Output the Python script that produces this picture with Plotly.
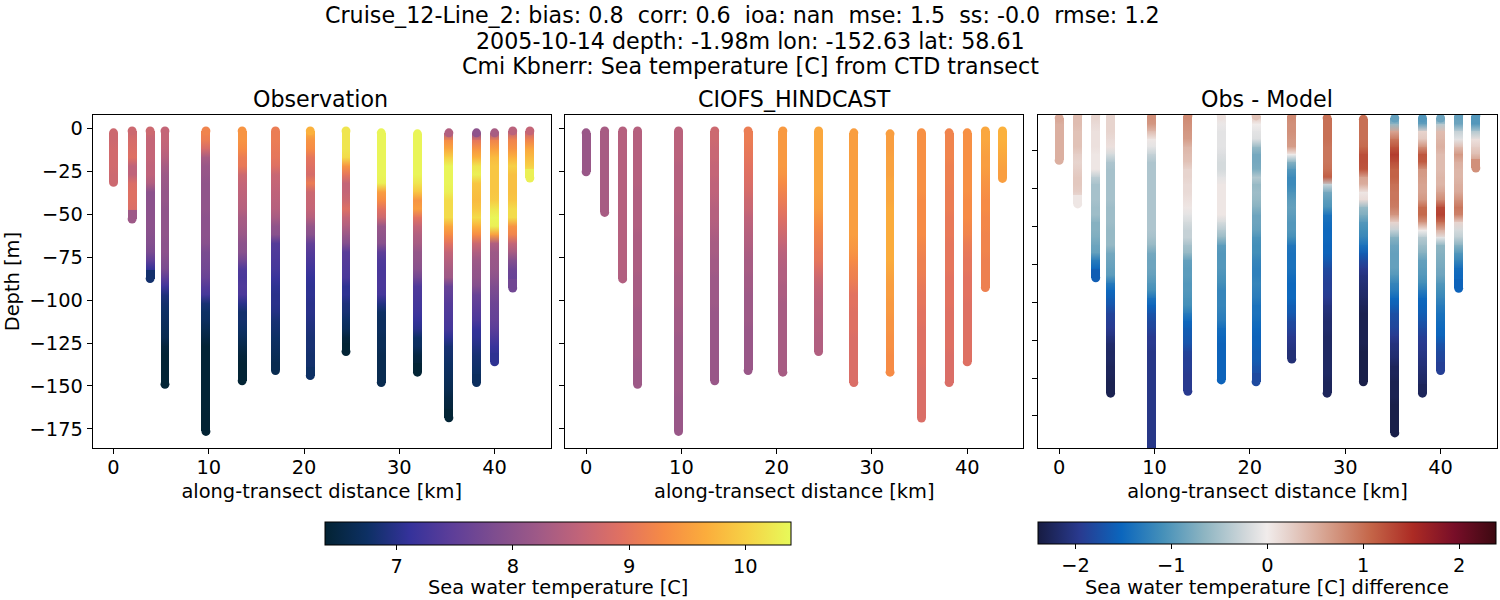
from plotly.colors import sample_colorscale
import plotly.graph_objects as go

# along-transect distance of each CTD cast [km]
DIST = [0, 1.95, 3.84, 5.4, 9.7, 13.5, 17, 20.65, 24.4, 28.1, 31.9, 35.2, 38.1, 40, 41.9, 43.7]

# depth levels [m], casts stop at their own bottom
LEVELS = [2, 7, 12, 17, 22, 27, 32, 37, 42, 47, 52, 57, 62, 67, 72, 77, 82, 87, 92, 97, 102, 107,
          112, 117, 122, 127, 132, 137, 142, 147, 152, 157, 162, 167, 172]
LEVELS_DIFF = [2, 6, 10, 14, 18, 22, 26, 30, 34, 38, 42, 46, 50, 54, 58, 62, 66, 70, 74, 78, 82, 86,
               90, 94, 98, 102, 106, 110, 114, 118, 122, 126, 130, 134, 138, 142, 146, 150, 154,
               158, 162, 166, 170, 174]

TOPS = [2.6, 1.5, 1.5, 1.5, 1.5, 1.5, 1.5, 1.5, 1.5, 2.6, 3.2, 2.6, 2.6, 2.6, 1.5, 1.5]
OBS_BOTTOM = [31.5, 52.8, 87.5, 149, 176.5, 147, 141, 144, 130, 148, 142, 168.5, 148, 136, 93, 29]
MODEL_BOTTOM = [25.3, 49, 87.7, 149, 176.5, 147, 141, 142, 130, 148, 142, 168.7, 148, 136, 92.7, 29.2]
DIFF_BOTTOM = [25, 48, 87, 148, 177, 147, 141, 142, 130, 148, 142, 169, 148, 136, 92.6, 29]

OBS_TEMP = [
    [8.7, 8.7, 8.75, 8.75, 8.75, 8.7, 8.7],
    [8.7, 8.8, 8.85, 8.9, 8.55, 8.55, 8.85, 8.9, 8.9, 8.85, 8.2],
    [8.7, 8.6, 8.6, 8.6, 8.55, 8.55, 8.4, 8.0, 8.0, 8.0, 8.0, 8.0, 7.95, 7.9, 7.8, 7.5, 7.1, 6.8],
    [8.6, 8.6, 8.55, 8.45, 8.3, 8.2, 8.15, 8.1, 8.1, 8.05, 8.05, 8.05, 8.05, 8.0, 8.0, 7.9, 7.8, 7.5,
     7.2, 6.9, 6.8, 6.75, 6.7, 6.65, 6.6, 6.45, 6.4, 6.4, 6.4, 6.4],
    [9.2, 9.1, 8.8, 8.3, 8.15, 8.1, 8.05, 8.05, 8.05, 8.05, 8.0, 8.0, 8.0, 7.95, 7.8, 7.75, 7.7, 7.6,
     7.4, 7.25, 6.85, 6.75, 6.7, 6.6, 6.5, 6.4, 6.4, 6.4, 6.4, 6.4, 6.4, 6.4, 6.4, 6.39, 6.39, 6.39],
    [9.4, 9.4, 9.3, 9.1, 9.05, 8.7, 8.6, 8.55, 8.5, 8.45, 8.3, 8.25, 8.15, 8.0, 7.95, 7.7, 7.35, 7.3,
     7.35, 7.3, 7.0, 6.8, 6.8, 6.75, 6.65, 6.55, 6.45, 6.4, 6.4, 6.4],
    [9.1, 9.1, 9.05, 9.0, 8.9, 8.65, 8.6, 8.55, 8.5, 8.45, 8.3, 8.05, 7.95, 7.4, 7.35, 7.3, 7.25, 7.15,
     7.05, 7.0, 7.0, 6.95, 6.85, 6.8, 6.75, 6.7, 6.65, 6.6, 6.6],
    [9.7, 9.4, 9.3, 9.0, 8.9, 8.8, 9.1, 8.7, 8.65, 8.6, 8.45, 8.1, 7.95, 7.55, 7.4, 7.3, 7.2, 7.1,
     7.05, 7.05, 7.0, 7.0, 6.95, 6.9, 6.85, 6.85, 6.8, 6.8, 6.75],
    [10.2, 10.2, 10.2, 10.1, 9.4, 9.0, 8.6, 8.6, 8.7, 8.9, 8.6, 8.4, 8.15, 7.9, 7.45, 7.4, 7.35, 7.3,
     7.05, 7.05, 6.9, 6.85, 6.75, 6.65, 6.45, 6.4],
    [10.35, 10.35, 10.35, 10.35, 10.35, 10.35, 10.3, 9.5, 9.3, 8.95, 8.7, 8.15, 8.05, 7.95, 7.5, 7.35,
     7.3, 7.3, 7.3, 7.25, 6.95, 6.75, 6.7, 6.7, 6.65, 6.65, 6.6, 6.6, 6.6, 6.6],
    [10.35, 10.35, 10.35, 10.35, 10.35, 10.35, 10.2, 9.9, 9.4, 9.5, 8.95, 8.6, 8.4, 8.3, 8.1, 8.05,
     7.95, 7.7, 7.35, 7.3, 7.25, 7.2, 7.1, 7.0, 6.75, 6.7, 6.5, 6.45, 6.4],
    [8.4, 9.3, 9.6, 10.0, 10.35, 10.35, 10.35, 10.3, 10.1, 10.1, 10.1, 9.6, 9.3, 8.95, 8.6, 8.45, 8.3,
     8.2, 7.6, 7.5, 7.4, 7.35, 7.3, 7.25, 7.05, 6.85, 6.8, 6.75, 6.7, 6.65, 6.6, 6.5, 6.45, 6.4],
    [8.0, 9.0, 9.4, 9.7, 10.2, 10.3, 9.9, 9.85, 9.8, 9.9, 10.1, 9.7, 9.3, 8.7, 8.4, 8.2, 8.1, 8.05,
     7.9, 7.6, 7.5, 7.4, 7.3, 7.1, 7.05, 6.95, 6.85, 6.8, 6.75, 6.7],
    [8.3, 9.2, 9.5, 9.8, 9.9, 9.9, 9.9, 9.9, 9.95, 10.2, 10.35, 10.3, 9.5, 8.4, 8.2, 8.15, 8.1, 8.0,
     7.85, 7.75, 7.65, 7.6, 7.55, 7.45, 7.3, 7.15, 7.05],
    [8.5, 9.2, 9.4, 9.7, 10.0, 9.85, 9.85, 9.85, 9.9, 10.1, 10.1, 9.4, 9.2, 8.6, 8.3, 7.9, 7.65, 7.6, 7.7],
    [8.6, 9.2, 9.6, 9.8, 10.0, 10.3],
]

MODEL_TEMP = [
    [8.15, 8.15, 8.15, 8.15, 8.15, 8.15],
    [8.3, 8.3, 8.3, 8.3, 8.3, 8.3, 8.3, 8.3, 8.3, 8.3, 8.3],
    [8.45, 8.45, 8.45, 8.45, 8.45, 8.45, 8.45, 8.45, 8.45, 8.45, 8.45, 8.45, 8.45, 8.45, 8.45, 8.45, 8.45, 8.4],
    [8.45, 8.45, 8.45, 8.45, 8.45, 8.45, 8.45, 8.4, 8.4, 8.4, 8.4, 8.4, 8.35, 8.35, 8.35, 8.35, 8.35, 8.3,
     8.3, 8.3, 8.3, 8.25, 8.25, 8.25, 8.25, 8.25, 8.25, 8.2, 8.2, 8.2],
    [8.5, 8.5, 8.5, 8.5, 8.45, 8.45, 8.45, 8.45, 8.45, 8.45, 8.4, 8.4, 8.4, 8.35, 8.35, 8.35, 8.35, 8.3,
     8.3, 8.3, 8.3, 8.25, 8.25, 8.25, 8.2, 8.2, 8.2, 8.2, 8.2, 8.2, 8.2, 8.15, 8.15, 8.15, 8.15, 8.15],
    [8.7, 8.7, 8.65, 8.65, 8.6, 8.6, 8.55, 8.55, 8.5, 8.45, 8.45, 8.4, 8.35, 8.3, 8.3, 8.25, 8.25, 8.2,
     8.2, 8.2, 8.2, 8.15, 8.15, 8.15, 8.15, 8.15, 8.15, 8.15, 8.15, 8.15],
    [9.1, 9.1, 9.05, 9.0, 8.95, 8.9, 8.85, 8.8, 8.7, 8.65, 8.55, 8.5, 8.45, 8.4, 8.35, 8.3, 8.3, 8.25,
     8.25, 8.2, 8.2, 8.2, 8.2, 8.15, 8.15, 8.15, 8.15, 8.15, 8.15],
    [9.45, 9.45, 9.45, 9.45, 9.45, 9.4, 9.3, 9.2, 9.1, 9.0, 8.9, 8.8, 8.7, 8.6, 8.5, 8.45, 8.4, 8.4,
     8.35, 8.35, 8.3, 8.3, 8.3, 8.3, 8.3, 8.3, 8.3, 8.3, 8.3],
    [9.6, 9.6, 9.6, 9.6, 9.6, 9.6, 9.6, 9.6, 9.55, 9.5, 9.4, 9.3, 9.2, 9.15, 9.05, 9.0, 8.85, 8.7,
     8.6, 8.55, 8.5, 8.5, 8.45, 8.45, 8.4, 8.4],
    [9.5, 9.5, 9.5, 9.5, 9.5, 9.5, 9.5, 9.5, 9.5, 9.5, 9.5, 9.5, 9.5, 9.45, 9.4, 9.3, 9.2, 9.15,
     9.05, 8.95, 8.95, 8.9, 8.9, 8.9, 8.85, 8.85, 8.85, 8.85, 8.85, 8.85],
    [9.5, 9.5, 9.5, 9.55, 9.55, 9.55, 9.6, 9.6, 9.6, 9.65, 9.65, 9.65, 9.65, 9.65, 9.65, 9.65, 9.6, 9.55,
     9.5, 9.5, 9.45, 9.45, 9.4, 9.4, 9.35, 9.35, 9.3, 9.3, 9.3],
    [9.35, 9.35, 9.35, 9.35, 9.35, 9.35, 9.35, 9.35, 9.3, 9.3, 9.3, 9.3, 9.3, 9.25, 9.2, 9.15, 9.15, 9.1,
     9.05, 9.0, 9.0, 8.95, 8.95, 8.9, 8.9, 8.9, 8.9, 8.9, 8.85, 8.85, 8.85, 8.85, 8.85, 8.85],
    [9.2, 9.2, 9.2, 9.2, 9.15, 9.15, 9.15, 9.1, 9.1, 9.1, 9.05, 9.05, 9.05, 9.0, 9.0, 9.0, 9.0, 8.95,
     8.95, 8.95, 8.95, 8.9, 8.9, 8.9, 8.9, 8.9, 8.85, 8.85, 8.85, 8.85],
    [9.35, 9.35, 9.35, 9.35, 9.35, 9.35, 9.35, 9.35, 9.3, 9.3, 9.3, 9.25, 9.2, 9.1, 9.05, 9.0, 9.0, 8.95,
     8.95, 8.95, 8.9, 8.9, 8.9, 8.9, 8.9, 8.9, 8.9, 8.9],
    [9.6, 9.6, 9.55, 9.5, 9.5, 9.45, 9.4, 9.35, 9.3, 9.3, 9.25, 9.25, 9.2, 9.2, 9.2, 9.15, 9.15, 9.15, 9.15],
    [9.7, 9.7, 9.65, 9.6, 9.55, 9.5, 9.5],
]

DIFF_TEMP = [
    [0.55, 0.5, 0.5, 0.5, 0.5, 0.5, 0.5],
    [0.4, 0.4, 0.35, 0.35, 0.35, 0.25, 0.2, 0.25, 0.3, 0.3, 0.25, 0.1, 0.05],
    [0.2, 0.15, 0.1, 0.1, 0.1, 0.05, 0.05, 0.05, -0.35, -0.5, -0.5, -0.5, -0.55, -0.55, -0.7, -0.7, -0.75,
     -0.85, -0.9, -1.3, -1.5, -1.6],
    [0.2, 0.2, 0.2, 0.15, 0.1, -0.2, -0.45, -0.5, -0.5, -0.5, -0.5, -0.5, -0.55, -0.55, -0.55, -0.6, -0.6,
     -0.6, -0.8, -0.85, -0.9, -0.95, -1.3, -1.5, -1.6, -1.7, -1.85, -1.9, -1.95, -2.05, -2.15, -2.2, -2.2,
     -2.25, -2.25, -2.3, -2.3],
    [0.75, 0.7, 0.4, 0.05, -0.1, -0.3, -0.45, -0.45, -0.45, -0.45, -0.45, -0.45, -0.45, -0.45, -0.45, -0.45,
     -0.5, -0.6, -0.8, -0.85, -0.85, -0.9, -1.0, -1.1, -1.4, -1.55, -1.7, -1.8, -1.85, -1.95, -1.95, -2.0,
     -2.0, -2.0, -2.0, -2.0, -2.0, -2.0, -2.0, -2.0, -2.0, -2.0, -2.0, -2.0, -2.0],
    [0.8, 0.75, 0.7, 0.65, 0.45, 0.4, 0.35, 0.2, 0.2, 0.15, 0.15, 0.1, 0.05, -0.1, -0.2, -0.3, -0.3, -0.5,
     -0.6, -0.9, -0.95, -0.95, -1.0, -1.0, -1.05, -1.1, -1.3, -1.5, -1.6, -1.65, -1.7, -1.85, -1.9, -1.9,
     -1.95, -1.95, -1.95],
    [0.1, -0.05, -0.1, -0.1, -0.1, -0.15, -0.2, -0.2, -0.1, 0.05, 0.05, 0.05, 0.05, 0.05, -0.2, -0.4, -0.6,
     -0.95, -1.0, -1.0, -1.0, -1.05, -1.1, -1.2, -1.2, -1.2, -1.25, -1.3, -1.45, -1.5, -1.55, -1.55, -1.55,
     -1.55, -1.55, -1.55],
    [0.35, 0.0, -0.1, -0.15, -0.6, -0.8, -0.8, -0.75, -0.4, -0.6, -0.55, -0.6, -0.7, -0.85, -0.85, -0.9,
     -1.05, -1.1, -1.1, -1.2, -1.25, -1.25, -1.2, -1.25, -1.3, -1.4, -1.4, -1.45, -1.5, -1.55, -1.55, -1.6,
     -1.6, -1.7, -1.75, -1.8],
    [0.8, 0.75, 0.75, 0.7, 0.65, 0.0, -0.7, -1.0, -1.15, -1.15, -1.05, -0.95, -0.9, -0.95, -1.0, -1.0, -1.1,
     -1.35, -1.4, -1.4, -1.4, -1.45, -1.5, -1.5, -1.5, -1.6, -1.65, -1.8, -1.85, -1.95, -2.0, -2.05, -2.1],
    [1.0, 1.0, 1.0, 1.0, 0.95, 0.95, 0.95, 1.0, 1.15, -0.3, -0.8, -0.95, -1.05, -1.4, -1.45, -1.5, -1.5,
     -1.55, -1.55, -1.65, -1.8, -1.85, -1.9, -1.9, -1.95, -2.05, -2.1, -2.15, -2.15, -2.2, -2.2, -2.2, -2.2,
     -2.2, -2.2, -2.25, -2.25],
    [1.0, 1.0, 1.0, 1.0, 1.05, 1.25, 1.25, 1.2, 0.6, 0.5, 0.05, 0.15, -0.6, -0.75, -1.0, -1.1, -1.2, -1.4,
     -1.6, -1.8, -1.95, -2.05, -2.1, -2.15, -2.2, -2.25, -2.3, -2.3, -2.3, -2.3, -2.3, -2.35, -2.35, -2.35,
     -2.35, -2.35],
    [-0.9, -0.6, 0.6, 0.95, 1.2, 1.4, 1.25, 1.1, 1.1, 1.0, 0.95, 0.95, 0.9, 0.7, 0.2, -0.3, -0.7, -0.85, -0.9,
     -0.9, -0.9, -1.0, -1.2, -1.3, -1.5, -1.6, -1.75, -1.8, -1.85, -1.95, -2.05, -2.1, -2.15, -2.25, -2.25,
     -2.3, -2.3, -2.3, -2.35, -2.35, -2.35, -2.35],
    [-1.0, -0.9, 0.2, 0.3, 0.75, 1.2, 1.15, 0.7, 0.65, 0.6, 0.6, 0.7, 1.05, 1.05, 0.7, 0.0, -0.4, -0.55, -0.7,
     -0.9, -0.95, -1.0, -1.1, -1.3, -1.5, -1.55, -1.6, -1.7, -1.8, -1.9, -1.95, -2.0, -2.05, -2.1, -2.15,
     -2.2, -2.25],
    [-0.85, -0.4, 0.4, 0.45, 0.5, 0.4, 0.4, 0.4, 0.45, 0.45, 0.6, 0.8, 1.3, 1.35, 1.0, 0.5, -0.1, -0.65, -0.7,
     -0.75, -0.8, -0.85, -1.0, -1.1, -1.2, -1.3, -1.4, -1.45, -1.5, -1.55, -1.7, -1.8, -1.85, -1.9],
    [-0.9, -0.85, -0.3, -0.1, 0.4, 0.7, 0.5, 0.45, 0.45, 0.5, 0.55, 0.75, 0.95, 0.85, 0.2, -0.2, -0.35, -0.7,
     -1.0, -1.2, -1.45, -1.5, -1.5, -1.55],
    [-1.0, -1.0, -0.4, 0.1, 0.25, 0.4, 0.7, 0.75],
]

Y_TICKS = [0, -25, -50, -75, -100, -125, -150, -175]
Y_TICKS_DIFF = [-20, -40, -60, -80, -100, -120, -140, -160]
X_TICKS = [0, 10, 20, 30, 40]

# cmocean balance with its near-white centre, plotly's named copy skips it
BALANCE = [
    [0.0, "rgb(23,28,66)"], [0.0909, "rgb(41,58,143)"], [0.1818, "rgb(11,102,189)"],
    [0.2727, "rgb(69,144,185)"], [0.3636, "rgb(142,181,194)"], [0.4545, "rgb(210,216,219)"],
    [0.5, "rgb(241,236,235)"], [0.5455, "rgb(230,210,204)"], [0.6364, "rgb(213,157,137)"],
    [0.7273, "rgb(196,101,72)"], [0.8182, "rgb(172,43,36)"], [0.9091, "rgb(120,14,40)"],
    [1.0, "rgb(60,9,17)"],
]

FONT = "DejaVu Sans"
W, H = 1500, 600
TICK_SIZE = 19.4
TITLE_SIZE = 22.2
MARKER_SIZE = 8.9
T_RANGE = (6.383, 10.393)
D_RANGE = (-2.387, 2.387)


def to_color(value, scale, vrange):
    frac = (value - vrange[0]) / (vrange[1] - vrange[0])
    return sample_colorscale(scale, [min(max(frac, 0), 1)])[0]


def build_cast_points(levels, tops, bottoms, casts, half, scale, vrange):
    # square pieces fade from one reading to the next, circles make the round ends
    xs, ys, cs, grads, syms = [], [], [], [], []
    for x, top, bottom, vals in zip(DIST, tops, bottoms, casts):
        depths = [top] + levels[1:len(vals) - 1] + [bottom]
        for i, (d0, d1, v0, v1) in enumerate(zip(depths[:-1], depths[1:], vals[:-1], vals[1:])):
            if i == 0:
                step = max(half, d1 - d0 - half)
            else:
                step = (d1 - d0) / 2 if d1 - d0 <= 2 * half else half
            mid = min(d0 + step, bottom - half)
            xs.append(x); ys.append(-mid); cs.append(v0)
            grads.append(to_color(v1, scale, vrange)); syms.append("square")
        # last piece of a cast can be longer than a square, close it with the end colour
        xs.append(x); ys.append(-(bottom - half)); cs.append(vals[-1])
        grads.append(to_color(vals[-1], scale, vrange)); syms.append("square")
        xs += [x, x]; ys += [-top, -bottom]; cs += [vals[0], vals[-1]]
        grads += [to_color(vals[0], scale, vrange), to_color(vals[-1], scale, vrange)]
        syms += ["circle", "circle"]
    return xs, ys, cs, grads, syms


panels = [
    (LEVELS, OBS_BOTTOM, OBS_TEMP, 2.59, "thermal", T_RANGE, "x", "y", "coloraxis"),
    (LEVELS, MODEL_BOTTOM, MODEL_TEMP, 2.59, "thermal", T_RANGE, "x2", "y2", "coloraxis"),
    (LEVELS_DIFF, DIFF_BOTTOM, DIFF_TEMP, 2.35, BALANCE, D_RANGE, "x3", "y3", "coloraxis2"),
]

fig = go.Figure()
for levels, bottoms, casts, half, scale, vrange, xa, ya, cax in panels:
    xs, ys, cs, grads, syms = build_cast_points(levels, TOPS, bottoms, casts, half, scale, vrange)
    fig.add_trace(go.Scatter(
        x=xs, y=ys, xaxis=xa, yaxis=ya, mode="markers",
        marker=dict(size=MARKER_SIZE, color=cs, coloraxis=cax, symbol=syms, line=dict(width=0),
                    gradient=dict(type="vertical", color=grads)),
        showlegend=False,
    ))

axis_style = dict(
    showgrid=False, zeroline=False, showline=True, mirror=True,
    linecolor="black", linewidth=1, ticks="outside", ticklen=5, tickwidth=1,
    tickcolor="black", tickfont=dict(size=TICK_SIZE, color="black"),
)
x_style = dict(axis_style, range=[-2.185, 45.885], tickvals=X_TICKS, ticklabelstandoff=-4,
               title=dict(text="along-transect distance [km]", font=dict(size=TICK_SIZE, color="black"), standoff=6))

fig.update_layout(
    width=W, height=H,
    margin=dict(l=0, r=0, t=0, b=0, autoexpand=False),
    paper_bgcolor="white", plot_bgcolor="white",
    font=dict(family=FONT, color="black"),
    xaxis=dict(x_style, domain=[92.7 / W, 550.7 / W], anchor="y"),
    xaxis2=dict(x_style, domain=[565.3 / W, 1023.3 / W], anchor="y2"),
    xaxis3=dict(x_style, domain=[1038.3 / W, 1496.7 / W], anchor="y3"),
    yaxis=dict(axis_style, domain=[1 - 448.3 / H, 1 - 115 / H], range=[-186.3, 7.75], tickvals=Y_TICKS,
               anchor="x", title=dict(text="Depth [m]", font=dict(size=TICK_SIZE, color="black"), standoff=4)),
    yaxis2=dict(axis_style, domain=[1 - 448.3 / H, 1 - 115 / H], range=[-186.3, 7.75], tickvals=Y_TICKS,
                showticklabels=False, anchor="x2"),
    yaxis3=dict(axis_style, domain=[1 - 448.3 / H, 1 - 115 / H], range=[-177.1, -1.0], tickvals=Y_TICKS_DIFF,
                showticklabels=False, anchor="x3"),
    coloraxis=dict(
        colorscale="thermal", cmin=T_RANGE[0], cmax=T_RANGE[1],
        colorbar=dict(
            orientation="h", x=325 / W, xanchor="left", y=1 - 522 / H, yanchor="top",
            len=465.7 / W, thickness=23, xpad=0, ypad=0,
            outlinecolor="black", outlinewidth=1,
            tickvals=[7, 8, 9, 10], ticks="outside", ticklen=5, tickwidth=1, tickcolor="black",
            tickfont=dict(size=TICK_SIZE, color="black"),
        ),
    ),
    coloraxis2=dict(
        colorscale=BALANCE, cmin=D_RANGE[0], cmax=D_RANGE[1],
        colorbar=dict(
            orientation="h", x=1038.3 / W, xanchor="left", y=1 - 522 / H, yanchor="top",
            len=458.4 / W, thickness=22, xpad=0, ypad=0,
            outlinecolor="black", outlinewidth=1,
            tickvals=[-2, -1, 0, 1, 2], ticks="outside", ticklen=5, tickwidth=1, tickcolor="black",
            tickfont=dict(size=TICK_SIZE, color="black"),
        ),
    ),
)

# title lines, panel titles and colorbar titles
texts = [
    ("Cruise_12-Line_2: bias: 0.8  corr: 0.6  ioa: nan  mse: 1.5  ss: -0.0  rmse: 1.2", 742, 15, TITLE_SIZE),
    ("2005-10-14 depth: -1.98m lon: -152.63 lat: 58.61", 750, 41, TITLE_SIZE),
    ("Cmi Kbnerr: Sea temperature [C] from CTD transect", 750, 66, TITLE_SIZE),
    ("Observation", 320, 99, TITLE_SIZE),
    ("CIOFS_HINDCAST", 794, 99, TITLE_SIZE),
    ("Obs - Model", 1267, 99, TITLE_SIZE),
    ("Sea water temperature [C]", 557.5, 587, TICK_SIZE),
    ("Sea water temperature [C] difference", 1266.5, 587, TICK_SIZE),
]
for text, px, py, size in texts:
    fig.add_annotation(text=text, xref="paper", yref="paper", x=px / W, y=1 - py / H,
                       xanchor="center", yanchor="middle", showarrow=False,
                       font=dict(size=size, color="black"))

# page margin would shift the whole figure by 8 px, square pieces get crisp sides
post = """
document.body.style.margin = '0';
document.querySelectorAll('path.point').forEach(function (p) {
    if (!p.getAttribute('d').includes('A')) p.style.shapeRendering = 'crispEdges';
});
"""
fig.write_html("out.html", post_script=post, config={"displayModeBar": False})
